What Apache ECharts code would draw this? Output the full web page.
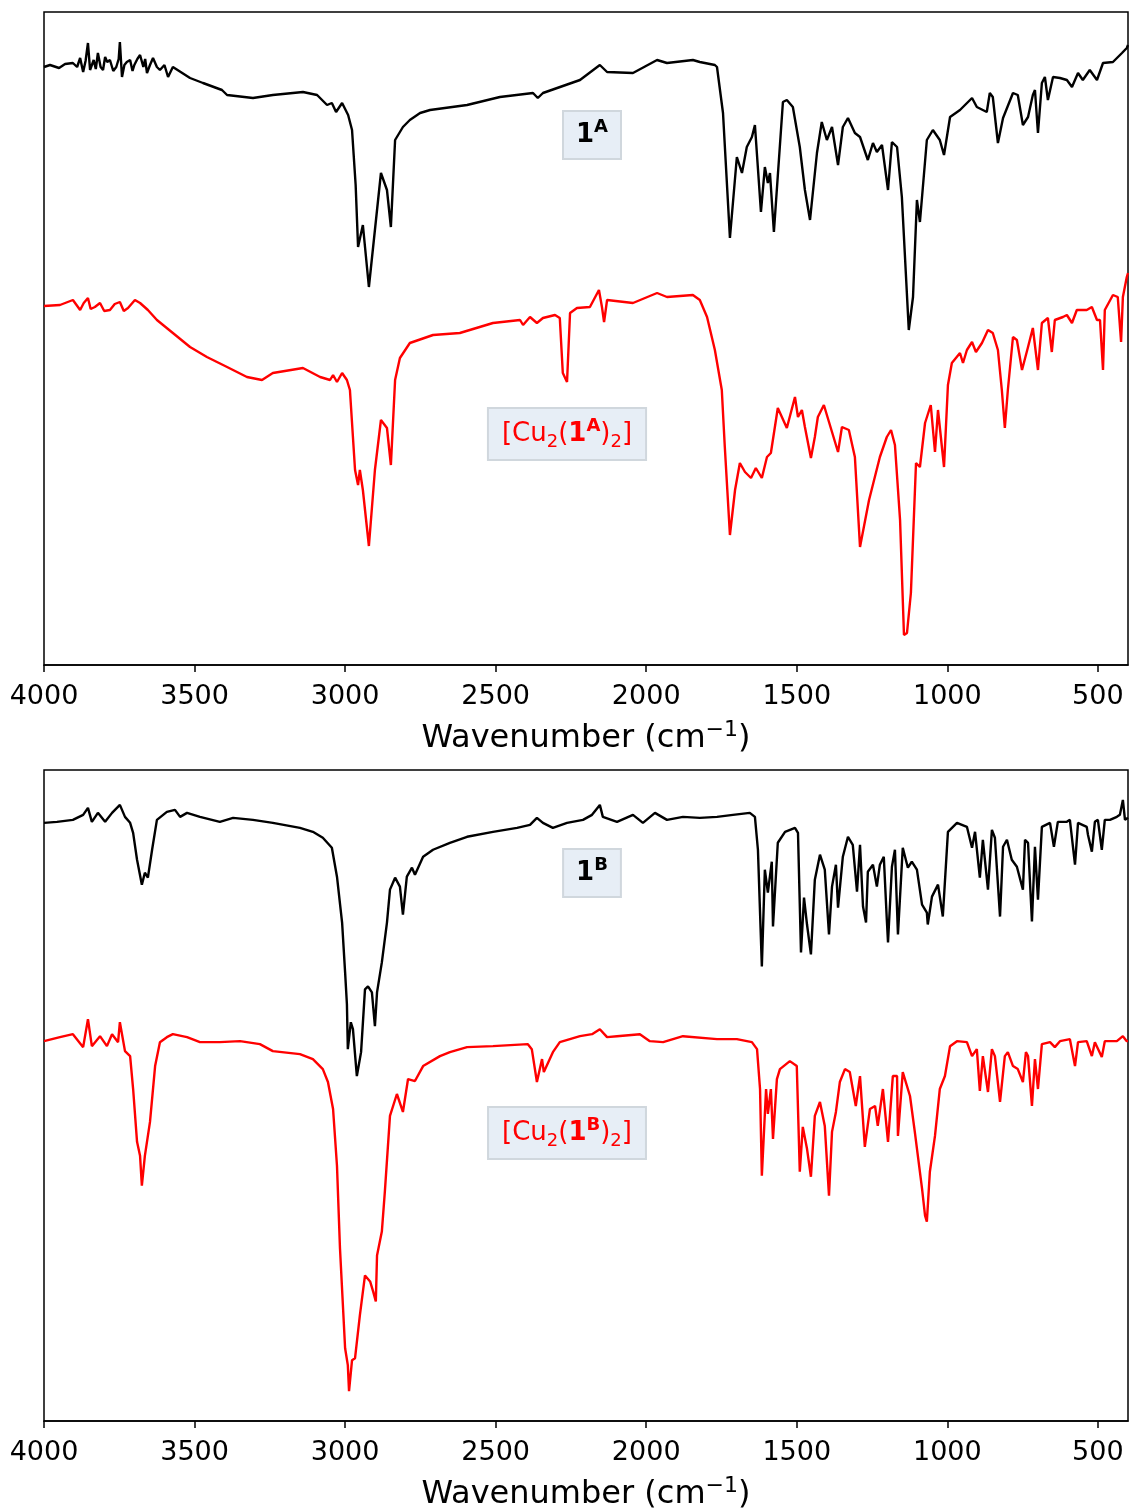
<!DOCTYPE html>
<html>
<head>
<meta charset="utf-8">
<title>IR spectra</title>
<script src="https://cdn.jsdelivr.net/npm/echarts@6/dist/echarts.min.js"></script>
<style>
  body { margin: 0; background: #fff; }
  #main { width: 1129px; height: 1512px; }
</style>
</head>
<body>
<div id="main"></div>
<script>
// wavenumber ticks (cm-1)
var tickValues = [500, 1000, 1500, 2000, 2500, 3000, 3500, 4000];

// spectra: [wavenumber, intensity (a.u., offset)]
var spec1A = [[4000,598],[3980,600],[3950,597],[3930,601],[3904,602],[3890,598],[3880,607],[3870,593],[3862,604],[3854,622],[3847,595],[3835,605],[3828,596],[3821,612],[3812,598],[3804,595],[3797,608],[3790,603],[3781,605],[3770,594],[3760,598],[3752,606],[3748,623],[3741,588],[3733,600],[3725,603],[3714,605],[3706,594],[3700,600],[3690,606],[3681,610],[3670,598],[3664,606],[3658,592],[3648,600],[3638,607],[3625,598],[3615,595],[3600,600],[3588,588],[3572,598],[3515,587],[3472,582],[3409,575],[3392,570],[3306,567],[3240,570],[3140,573],[3093,570],[3060,560],[3044,562],[3030,553],[3010,562],[2990,550],[2977,535],[2965,480],[2957,418],[2954,417],[2941,440],[2921,378],[2881,492],[2861,475],[2848,438],[2834,525],[2808,538],[2785,545],[2751,552],[2718,555],[2595,560],[2486,568],[2376,572],[2360,567],[2343,572],[2220,585],[2154,600],[2130,593],[2044,592],[1964,605],[1931,602],[1845,605],[1822,603],[1772,600],[1765,598],[1745,552],[1722,427],[1699,508],[1682,492],[1666,518],[1649,528],[1639,540],[1619,453],[1606,498],[1596,482],[1589,492],[1576,433],[1546,563],[1533,565],[1513,558],[1490,518],[1473,475],[1456,445],[1433,512],[1417,543],[1400,525],[1383,538],[1363,500],[1347,538],[1330,547],[1307,532],[1290,528],[1264,505],[1247,522],[1234,513],[1217,520],[1197,475],[1184,523],[1167,518],[1151,468],[1128,335],[1114,368],[1101,465],[1091,443],[1068,525],[1048,535],[1025,525],[1011,510],[991,548],[958,555],[918,567],[902,558],[869,553],[859,572],[849,568],[832,522],[815,547],[782,572],[766,570],[749,540],[732,548],[716,570],[709,575],[699,532],[686,582],[676,588],[666,565],[649,588],[626,587],[603,585],[586,578],[566,592],[550,585],[527,595],[503,585],[483,602],[450,603],[420,612],[404,617],[400,620]];

var specCu1A = [[4000,359],[3947,360],[3904,365],[3880,355],[3868,362],[3854,367],[3845,356],[3831,358],[3814,362],[3800,354],[3781,355],[3765,361],[3748,363],[3735,354],[3721,357],[3698,365],[3681,362],[3655,355],[3625,345],[3572,332],[3515,318],[3459,308],[3392,298],[3326,288],[3276,285],[3240,292],[3140,297],[3083,288],[3050,285],[3040,290],[3027,283],[3010,292],[2994,285],[2984,275],[2967,195],[2957,180],[2951,195],[2941,175],[2921,119],[2901,195],[2881,245],[2861,237],[2848,200],[2834,285],[2818,307],[2785,322],[2708,330],[2619,332],[2509,342],[2419,345],[2409,340],[2386,348],[2363,342],[2343,347],[2303,350],[2287,347],[2277,292],[2263,283],[2253,352],[2230,357],[2187,358],[2157,375],[2147,358],[2140,343],[2130,365],[2044,362],[1964,372],[1931,368],[1845,370],[1822,365],[1798,348],[1772,315],[1749,275],[1739,218],[1722,130],[1705,175],[1689,202],[1672,193],[1652,187],[1636,197],[1616,187],[1599,208],[1586,212],[1563,257],[1533,237],[1506,268],[1496,248],[1483,255],[1473,238],[1453,207],[1440,228],[1430,248],[1410,260],[1393,243],[1363,213],[1350,238],[1327,235],[1307,208],[1290,118],[1260,165],[1224,208],[1201,228],[1187,235],[1174,220],[1157,145],[1144,30],[1134,32],[1121,72],[1104,202],[1091,198],[1074,242],[1055,260],[1041,213],[1031,255],[1011,198],[998,280],[985,302],[958,312],[948,302],[935,315],[918,323],[905,313],[885,322],[865,335],[849,332],[832,315],[819,275],[809,237],[799,275],[782,328],[769,325],[752,295],[732,318],[716,337],[699,295],[686,342],[666,347],[653,313],[643,345],[616,348],[603,350],[586,342],[570,355],[537,355],[520,358],[503,345],[493,345],[483,295],[477,355],[450,370],[434,368],[423,323],[417,368],[404,388],[400,392]];

var spec1B = [[4000,600],[3957,601],[3904,603],[3870,608],[3854,615],[3841,601],[3821,610],[3797,601],[3774,610],[3748,618],[3731,606],[3714,600],[3704,590],[3691,563],[3675,538],[3665,550],[3655,545],[3641,573],[3625,603],[3592,611],[3565,613],[3548,606],[3525,610],[3482,606],[3416,601],[3372,605],[3306,603],[3240,600],[3150,595],[3107,591],[3074,585],[3044,575],[3027,546],[3010,500],[3000,450],[2994,418],[2991,373],[2981,400],[2974,393],[2961,346],[2947,370],[2934,433],[2924,436],[2911,430],[2901,396],[2894,430],[2878,460],[2861,500],[2851,533],[2834,545],[2818,536],[2808,508],[2795,546],[2778,555],[2768,548],[2741,566],[2708,573],[2652,580],[2595,586],[2509,591],[2429,595],[2386,598],[2363,605],[2343,600],[2310,595],[2263,600],[2210,603],[2180,608],[2154,618],[2144,606],[2097,601],[2044,608],[2011,600],[1971,610],[1931,603],[1878,606],[1822,605],[1765,606],[1712,608],[1656,610],[1639,606],[1629,573],[1616,456],[1606,553],[1596,530],[1583,561],[1579,496],[1563,580],[1539,591],[1506,595],[1496,590],[1486,470],[1476,525],[1466,498],[1453,468],[1440,543],[1423,568],[1407,553],[1393,488],[1383,536],[1370,558],[1363,515],[1347,566],[1330,586],[1314,578],[1300,531],[1290,578],[1280,516],[1270,500],[1264,551],[1247,558],[1234,536],[1224,558],[1211,566],[1201,503],[1197,480],[1184,556],[1174,573],[1164,488],[1148,575],[1131,555],[1118,561],[1101,553],[1084,518],[1068,510],[1065,498],[1051,526],[1031,538],[1015,506],[998,591],[968,600],[935,596],[918,575],[908,591],[892,545],[882,583],[865,533],[852,593],[842,585],[825,506],[815,576],[802,583],[786,563],[769,556],[749,533],[742,583],[732,580],[719,501],[709,576],[699,523],[686,596],[659,600],[646,576],[633,601],[603,601],[593,603],[576,558],[566,600],[537,596],[533,588],[520,571],[510,601],[500,603],[487,573],[477,603],[460,603],[437,606],[427,608],[417,623],[410,603],[404,605],[400,605]];

var specCu1B = [[4000,381],[3947,385],[3904,388],[3870,375],[3854,403],[3841,376],[3814,386],[3791,376],[3774,388],[3754,380],[3748,400],[3731,371],[3714,366],[3704,333],[3691,280],[3681,266],[3675,236],[3665,266],[3648,300],[3631,356],[3615,380],[3592,385],[3572,388],[3525,385],[3482,380],[3416,380],[3349,381],[3283,378],[3240,371],[3150,368],[3107,363],[3074,353],[3057,340],[3040,313],[3027,256],[3017,173],[3000,73],[2991,56],[2987,30],[2977,61],[2967,63],[2951,106],[2934,146],[2917,140],[2907,130],[2898,120],[2894,166],[2878,190],[2868,230],[2851,306],[2828,328],[2808,310],[2791,343],[2768,341],[2741,356],[2685,366],[2652,370],[2595,375],[2509,376],[2393,378],[2380,373],[2363,340],[2346,363],[2340,350],[2310,370],[2287,380],[2220,386],[2180,388],[2154,393],[2130,385],[2097,386],[2021,388],[1988,381],[1944,380],[1878,386],[1765,383],[1699,383],[1649,380],[1632,373],[1622,333],[1616,246],[1602,333],[1596,308],[1586,333],[1579,283],[1566,343],[1556,353],[1523,361],[1500,356],[1490,250],[1480,295],[1466,273],[1453,245],[1440,306],[1423,320],[1407,296],[1393,226],[1383,290],[1370,310],[1357,340],[1340,353],[1324,350],[1304,316],[1290,346],[1274,275],[1257,313],[1240,316],[1231,296],[1214,333],[1197,280],[1181,346],[1167,346],[1164,286],[1148,350],[1124,326],[1108,290],[1084,233],[1074,206],[1068,200],[1058,250],[1041,286],[1025,333],[1008,346],[991,376],[968,381],[935,380],[918,366],[902,373],[892,331],[882,366],[865,330],[852,373],[842,366],[825,320],[809,366],[799,370],[782,356],[766,353],[749,340],[739,370],[732,366],[719,316],[709,363],[699,333],[686,378],[659,380],[643,375],[626,381],[593,383],[576,356],[566,380],[537,381],[520,366],[510,380],[487,365],[477,381],[437,381],[417,386],[404,381],[400,381]];

var font = 'DejaVu Sans';

// x axis, same for both panels
function makeX(idx) {
  return {
    type: 'value', gridIndex: idx, inverse: true, min: 400, max: 4000,
    splitLine: { show: false },
    axisLine: { show: true, onZero: false, lineStyle: { color: '#000', width: 1.5 } },
    axisTick: { show: true, length: 7, customValues: tickValues, lineStyle: { color: '#000', width: 1.5 } },
    axisLabel: {
      customValues: tickValues, color: '#000', fontSize: 27, fontFamily: font, margin: 18,
      formatter: function (v) { return String(v); }
    },
    name: '{n|Wavenumber (cm}{sup|\u22121}{n|)}',
    nameLocation: 'middle', nameGap: 54,
    nameTextStyle: {
      color: '#000', fontSize: 32, fontFamily: font,
      rich: {
        n: { fontSize: 32, fontFamily: font, color: '#000', lineHeight: 40 },
        sup: { fontSize: 22, fontFamily: font, color: '#000', verticalAlign: 'top', lineHeight: 22 }
      }
    }
  };
}
function makeY(idx) {
  return { type: 'value', gridIndex: idx, min: 0, max: 653, show: false };
}
function line(data, color, idx) {
  return {
    type: 'line', data: data, xAxisIndex: idx, yAxisIndex: idx,
    showSymbol: false, symbol: 'none', lineStyle: { color: color, width: 2.4 },
    animation: false
  };
}

// label box, text built from rich pieces
var richStyle = function (color) {
  return {
    n: { fontSize: 26, fontFamily: font, fill: color, lineHeight: 34 },
    b: { fontSize: 26, fontFamily: font, fontWeight: 'bold', fill: color, lineHeight: 34 },
    sup: { fontSize: 18, fontFamily: font, fontWeight: 'bold', fill: color, verticalAlign: 'top', lineHeight: 16 },
    sub: { fontSize: 18, fontFamily: font, fill: color, verticalAlign: 'bottom', lineHeight: 18 }
  };
};
function labelBox(text, color, x, y, pad) {
  return {
    type: 'text', x: x, y: y, z: 10,
    style: {
      text: text, align: 'center', verticalAlign: 'middle',
      rich: richStyle(color), fill: color,
      backgroundColor: '#e7eef6', borderColor: '#d0d7dd', borderWidth: 2,
      padding: pad
    }
  };
}

var chart = echarts.init(document.getElementById('main'));
chart.setOption({
  backgroundColor: '#fff',
  animation: false,
  grid: [
    { left: 44, top: 12, width: 1084, height: 653, show: true, borderColor: '#000', borderWidth: 1.5, containLabel: false },
    { left: 44, top: 770, width: 1084, height: 653, show: true, borderColor: '#000', borderWidth: 1.5, containLabel: false }
  ],
  xAxis: [makeX(0), makeX(1)],
  yAxis: [makeY(0), makeY(1)],
  series: [
    line(spec1A, '#000000', 0),
    line(specCu1A, '#ff0000', 0),
    line(spec1B, '#000000', 1),
    line(specCu1B, '#ff0000', 1)
  ],
  graphic: [
    labelBox('{b|1}{sup|A}', '#000', 592, 135, [6, 12, 6, 12]),
    labelBox('{n|[Cu}{sub|2}{n|(}{b|1}{sup|A}{n|)}{sub|2}{n|]}', '#ff0000', 567, 434, [8, 13, 8, 13]),
    labelBox('{b|1}{sup|B}', '#000', 592, 873, [6, 12, 6, 12]),
    labelBox('{n|[Cu}{sub|2}{n|(}{b|1}{sup|B}{n|)}{sub|2}{n|]}', '#ff0000', 567, 1133, [8, 13, 8, 13])
  ]
});
</script>
</body>
</html>
